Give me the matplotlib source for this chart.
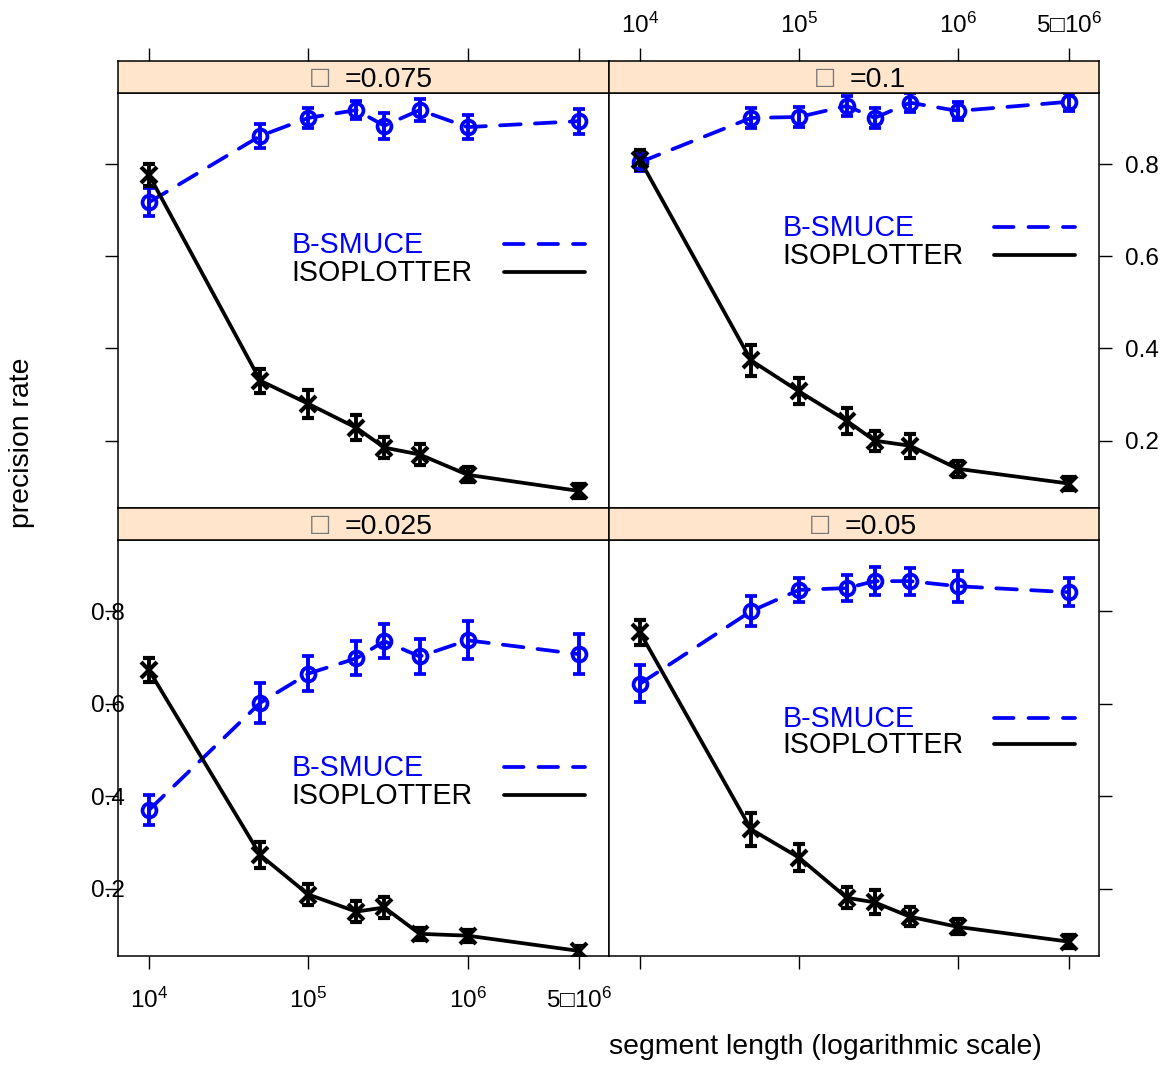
import matplotlib
matplotlib.use("Agg")
import matplotlib.pyplot as plt
import numpy as np

plt.rcParams['font.family'] = ['Liberation Sans', 'DejaVu Sans']
plt.rcParams['mathtext.fontset'] = 'custom'
plt.rcParams['mathtext.rm'] = 'Liberation Sans'
plt.rcParams['mathtext.it'] = 'Liberation Sans'
plt.rcParams['mathtext.fallback'] = 'stixsans'

# segment lengths (x axis, log scale)
seg_len = [1e4, 5e4, 1e5, 2e5, 3e5, 5e5, 1e6, 5e6]
x_ticks = [1e4, 1e5, 1e6, 5e6]
x_ticklabels = [r'$10^{4}$', r'$10^{5}$', r'$10^{6}$', '5\u25a1$10^{6}$']
y_ticks = [0.2, 0.4, 0.6, 0.8]
y_ticklabels = ['0.2', '0.4', '0.6', '0.8']

# panel order: top-left, top-right, bottom-left, bottom-right
alpha_labels = ['=0.075', '=0.1', '=0.025', '=0.05']

bsmuce_0075 = [0.717, 0.861, 0.900, 0.917, 0.883, 0.917, 0.880, 0.893]
bsmuce_0075_err = [0.030, 0.026, 0.022, 0.020, 0.028, 0.024, 0.026, 0.027]
iso_0075 = [0.776, 0.330, 0.280, 0.228, 0.185, 0.170, 0.126, 0.091]
iso_0075_err = [0.023, 0.026, 0.030, 0.027, 0.023, 0.022, 0.016, 0.015]

bsmuce_01 = [0.804, 0.900, 0.902, 0.926, 0.900, 0.933, 0.915, 0.935]
bsmuce_01_err = [0.020, 0.022, 0.022, 0.022, 0.022, 0.020, 0.020, 0.020]
iso_01 = [0.809, 0.374, 0.307, 0.243, 0.200, 0.189, 0.139, 0.107]
iso_01_err = [0.022, 0.033, 0.028, 0.028, 0.022, 0.026, 0.017, 0.015]

bsmuce_0025 = [0.370, 0.602, 0.665, 0.698, 0.735, 0.702, 0.737, 0.707]
bsmuce_0025_err = [0.033, 0.043, 0.037, 0.037, 0.037, 0.037, 0.041, 0.043]
iso_0025 = [0.672, 0.272, 0.187, 0.150, 0.159, 0.102, 0.098, 0.065]
iso_0025_err = [0.026, 0.028, 0.022, 0.022, 0.022, 0.013, 0.013, 0.011]

bsmuce_005 = [0.643, 0.800, 0.846, 0.850, 0.865, 0.865, 0.854, 0.841]
bsmuce_005_err = [0.040, 0.032, 0.026, 0.028, 0.030, 0.029, 0.034, 0.030]
iso_005 = [0.754, 0.328, 0.267, 0.180, 0.170, 0.139, 0.117, 0.085]
iso_005_err = [0.027, 0.036, 0.030, 0.023, 0.026, 0.020, 0.016, 0.014]

panels = [
    (bsmuce_0075, bsmuce_0075_err, iso_0075, iso_0075_err),
    (bsmuce_01, bsmuce_01_err, iso_01, iso_01_err),
    (bsmuce_0025, bsmuce_0025_err, iso_0025, iso_0025_err),
    (bsmuce_005, bsmuce_005_err, iso_005, iso_005_err),
]

W, H = 1168, 1066
fig = plt.figure(figsize=(W / 100, H / 100), dpi=100)

def frac(x0, y0, x1, y1):
    # pixel box (top-left origin) -> figure fraction rect
    return [x0 / W, 1 - y1 / H, (x1 - x0) / W, (y1 - y0) / H]

col_x = [(118, 609), (609, 1099)]
row_y = [(61, 93, 508), (508, 540, 956)]  # strip top, panel top, panel bottom

xlim = (10 ** 3.805, 10 ** 6.888)
ylim = (0.054, 0.954)
# legend y positions (axes fraction) for B-SMUCE / ISOPLOTTER
leg_y = [(0.634, 0.566), (0.675, 0.607), (0.452, 0.385), (0.570, 0.507)]
# start of "=..." text in pixel x within strip, box drawn before it
strip_txt_x = [345, 850, 345, 845]

BLUE = '#0000FF'
tick_len = 9.5

for i, (bs, bs_err, iso, iso_err) in enumerate(panels):
    r, c = divmod(i, 2)
    x0, x1 = col_x[c]
    sy, py, pb = row_y[r]

    ax = fig.add_axes(frac(x0, py, x1, pb))
    st = fig.add_axes(frac(x0, sy, x1, py))

    ax.errorbar(seg_len, bs, yerr=bs_err, color=BLUE, lw=2.7, dashes=(5.5, 3.8),
                marker='o', ms=10, mfc='none', mew=2.7, capsize=4.5, capthick=2.8,
                elinewidth=2.8, dash_capstyle='round')
    ax.errorbar(seg_len, iso, yerr=iso_err, color='black', lw=2.7,
                marker='x', ms=12, mew=3, capsize=4.5, capthick=2.8,
                elinewidth=2.8)

    ax.set_xscale('log')
    ax.set_xlim(xlim)
    ax.set_ylim(ylim)
    ax.minorticks_off()
    for sp in ax.spines.values():
        sp.set_linewidth(1.1)

    # legend drawn as text + line sample
    ly1, ly2 = leg_y[i]
    ax.text(0.354, ly1, 'B-SMUCE', color=BLUE, fontsize=20.6, transform=ax.transAxes,
            va='center', ha='left')
    ax.text(0.354, ly2, 'ISOPLOTTER', color='black', fontsize=20.6, transform=ax.transAxes,
            va='center', ha='left')
    ax.plot([0.786, 0.951], [ly1 + 0.002, ly1 + 0.002], color=BLUE, lw=2.7,
            dashes=(5.2, 4.0), dash_capstyle='round', transform=ax.transAxes)
    ax.plot([0.786, 0.951], [ly2 + 0.002, ly2 + 0.002], color='black', lw=2.7,
            solid_capstyle='round', transform=ax.transAxes)

    # ticks
    ax.set_xticks(x_ticks)
    ax.set_yticks(y_ticks)
    ax.tick_params(axis='both', which='both', direction='out', length=tick_len,
                   width=1.0, labelsize=17.5)
    if r == 0:
        ax.tick_params(axis='x', bottom=False, labelbottom=False)
    else:
        ax.tick_params(axis='x', bottom=True, labelbottom=(c == 0), pad=13)
        ax.set_xticklabels(x_ticklabels)
    if c == 0:
        ax.tick_params(axis='y', left=True, right=False, labelleft=(r == 1), pad=-14.4)
        ax.set_yticklabels(y_ticklabels)
    else:
        ax.tick_params(axis='y', left=False, right=True, labelleft=False,
                       labelright=(r == 0), pad=9)
        ax.set_yticklabels(y_ticklabels)

    # strip
    st.set_facecolor('#ffe5cc')
    st.set_xscale('log')
    st.set_xlim(xlim)
    st.set_ylim(0, 1)
    st.minorticks_off()
    st.set_yticks([])
    for sp in st.spines.values():
        sp.set_linewidth(1.1)
    if r == 0:
        st.set_xticks(x_ticks)
        st.tick_params(axis='x', top=True, bottom=False, labeltop=(c == 1),
                       labelbottom=False, direction='out', length=tick_len,
                       width=1.0, labelsize=17.5, pad=7)
        st.set_xticklabels(x_ticklabels)
    else:
        st.set_xticks([])
    tx = (strip_txt_x[i] - x0) / (x1 - x0)
    bx = (strip_txt_x[i] - 36 - x0) / (x1 - x0)
    st.text(bx, 0.5, '\u25a1', color='#777777', fontsize=17, ha='left', va='center',
            transform=st.transAxes, family='DejaVu Sans')
    st.text(tx, 0.42, alpha_labels[i], color='black', fontsize=20.5, ha='left',
            va='center', transform=st.transAxes)

fig.text(22 / W, 1 - 443 / H, 'precision rate', rotation=90, fontsize=20.4,
         ha='center', va='center')
fig.text(825 / W, 1 - 1047 / H, 'segment length (logarithmic scale)', fontsize=20.4,
         ha='center', va='center')

fig.savefig('out.png', dpi=100)
